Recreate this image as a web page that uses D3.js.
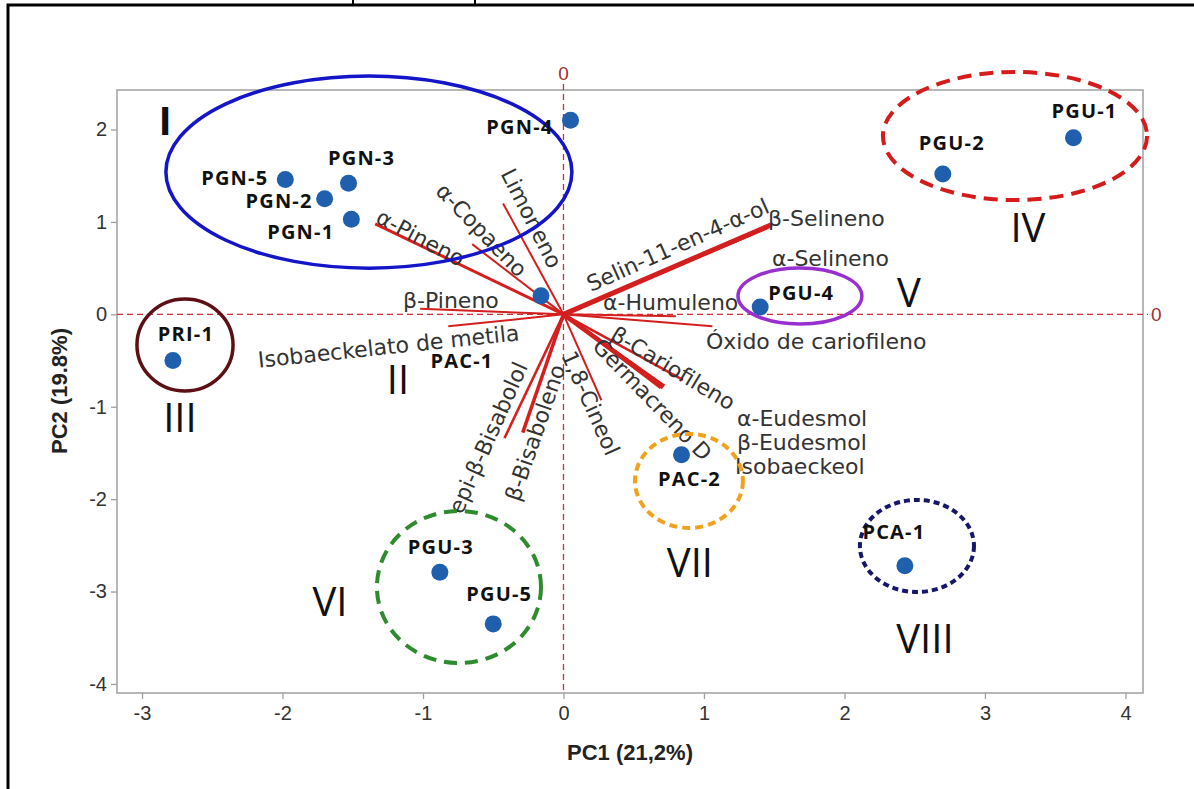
<!DOCTYPE html>
<html>
<head>
<meta charset="utf-8">
<script src="https://cdn.jsdelivr.net/npm/d3@7/dist/d3.min.js"></script>
<style>
  body { margin: 0; background: #fff; }
</style>
</head>
<body>
<div id="chart"></div>
<script>
"use strict";

// samples (scores)
var sampleNames = ["PGN-1", "PGN-2", "PGN-3", "PGN-4", "PGN-5", "PRI-1", "PAC-1", "PGU-4",
                   "PGU-2", "PGU-1", "PAC-2", "PCA-1", "PGU-3", "PGU-5"];
var samplePC1 = [-1.51, -1.70, -1.53, 0.05, -1.98, -2.78, -0.16, 1.40, 2.70, 3.63, 0.84, 2.43, -0.88, -0.50];
var samplePC2 = [1.03, 1.25, 1.42, 2.10, 1.46, -0.50, 0.20, 0.08, 1.52, 1.91, -1.52, -2.72, -2.79, -3.35];

// compounds (loadings, drawn as vectors from origin)
var loadingNames = ["α-Pineno", "α-Copaeno", "Limoneno", "β-Pineno", "Isobaeckelato de metila",
                    "Selin-11-en-4-α-ol", "β-Selineno", "α-Selineno", "α-Humuleno", "Óxido de cariofileno",
                    "β-Cariofileno", "Germacreno D", "α-Eudesmol", "β-Eudesmol", "Isobaeckeol",
                    "1,8-Cineol", "β-Bisaboleno", "epi-β-Bisabolol"];
var loadingPC1 = [-1.34, -0.65, -0.43, -1.02, -0.82, 1.48, 1.47, 1.45, 0.80, 1.06,
                  0.85, 0.71, 0.70, 0.72, 0.69, 0.27, -0.29, -0.42];
var loadingPC2 = [0.98, 0.76, 1.20, 0.06, -0.13, 0.97, 0.95, 0.93, -0.02, -0.13,
                  -0.71, -0.79, -0.78, -0.77, -0.80, -0.93, -1.28, -1.34];

// groups
var groupNames = ["I", "II", "III", "IV", "V", "VI", "VII", "VIII"];

// axis ticks
var xTicks = [-3, -2, -1, 0, 1, 2, 3, 4];
var yTicks = [-4, -3, -2, -1, 0, 1, 2];

// ---------- layout / style ----------
var W = 1194, H = 789;
var plot = { left: 117, right: 1143, top: 90, bottom: 693 };

var x = d3.scaleLinear().domain([-3.178, 4.125]).range([plot.left, plot.right]);
var y = d3.scaleLinear().domain([-4.098, 2.428]).range([plot.bottom, plot.top]);

// sample label offsets in px
var sampleLabelPos = {
    "PGN-1": [-17, 13, "end"], "PGN-2": [-12, 2, "end"], "PGN-3": [13, -25, "middle"],
    "PGN-4": [-17, 7, "end"], "PGN-5": [-17, -1, "end"], "PRI-1": [13, -27, "middle"],
    "PAC-1": [-79, 65, "middle"], "PGU-4": [8, -14, "start"], "PGU-2": [9, -31, "middle"],
    "PGU-1": [11, -27, "middle"], "PAC-2": [8, 24, "middle"], "PCA-1": [-11, -34, "middle"],
    "PGU-3": [1, -25, "middle"], "PGU-5": [6, -30, "middle"]
};

// compound label anchors (data units) and rotation
var loadingLabelPos = {
    "α-Pineno": [-1.320, 1.073, 28],
    "α-Copaeno": [-0.879, 1.378, 46],
    "Limoneno": [-0.402, 1.562, 63],
    "Selin-11-en-4-α-ol": [0.174, 0.317, -24],
    "β-Pineno": [-1.142, 0.155, 0],
    "Isobaeckelato de metila": [-2.174, -0.495, -6],
    "α-Humuleno": [0.281, 0.133, 0],
    "β-Selineno": [1.456, 1.042, 0],
    "α-Selineno": [1.484, 0.609, 0],
    "Óxido de cariofileno": [1.014, -0.289, 0],
    "β-Cariofileno": [0.352, -0.192, 31],
    "Germacreno D": [0.238, -0.300, 46],
    "1,8-Cineol": [0.032, -0.408, 66],
    "β-Bisaboleno": [-0.367, -2.010, -71],
    "epi-β-Bisabolol": [-0.772, -2.140, -66],
    "α-Eudesmol": [1.235, -1.121, 0],
    "β-Eudesmol": [1.235, -1.381, 0],
    "Isobaeckeol": [1.221, -1.640, 0]
};

var lineWidth = {
    "α-Pineno": 3, "Selin-11-en-4-α-ol": 5, "Germacreno D": 4.5,
    "β-Bisaboleno": 3.5, "epi-β-Bisabolol": 2.5, "β-Cariofileno": 2.5
};

// group ellipses in data units: cx, cy, rx, ry, color, dash, width
var groupShape = {
    "I":    [-1.385, 1.54, 1.445, 1.04, "#1414c8", null, 3.5],
    "III":  [-2.694, -0.332, 0.342, 0.498, "#5c0f14", null, 3.5],
    "IV":   [3.214, 1.93, 0.94, 0.693, "#d41c1c", "14 8", 4],
    "V":    [1.683, 0.198, 0.441, 0.303, "#9a2fd0", null, 3.5],
    "VI":   [-0.744, -2.951, 0.584, 0.823, "#2e8b2e", "13 8", 4],
    "VII":  [0.893, -1.803, 0.384, 0.509, "#f0a21e", "8 5", 4],
    "VIII": [2.516, -2.507, 0.406, 0.498, "#16166b", "6 4", 4]
};
var groupLabelPos = {
    "I": [-2.836, 2.102], "II": [-1.178, -0.711], "III": [-2.730, -1.122], "IV": [3.306, 0.934],
    "V": [2.459, 0.231], "VI": [-1.662, -3.114], "VII": [0.900, -2.692], "VIII": [2.573, -3.504]
};

var svg = d3.select("#chart").append("svg")
    .attr("width", W).attr("height", H)
    .style("font-family", "'DejaVu Sans', sans-serif");

svg.append("rect").attr("width", W).attr("height", H).attr("fill", "#fff");

// page border (cropped figure box)
svg.append("path").attr("d", "M8,789 V5 H1194")
    .attr("fill", "none").attr("stroke", "#000").attr("stroke-width", 3);
svg.append("path").attr("d", "M353,0 V5 M475,0 V5")
    .attr("stroke", "#000").attr("stroke-width", 2);

// frame
svg.append("rect")
    .attr("x", plot.left).attr("y", plot.top)
    .attr("width", plot.right - plot.left).attr("height", plot.bottom - plot.top)
    .attr("fill", "none").attr("stroke", "#a0a0a0").attr("stroke-width", 1.5);

// axes
var tickFont = "'Liberation Sans', Arial, sans-serif";
var xAxis = svg.append("g").attr("transform", "translate(0," + plot.bottom + ")")
    .call(d3.axisBottom(x).tickValues(xTicks).tickSize(6).tickPadding(7).tickFormat(function (d) { return String(d); }));
var yAxis = svg.append("g").attr("transform", "translate(" + plot.left + ",0)")
    .call(d3.axisLeft(y).tickValues(yTicks).tickSize(6).tickPadding(4).tickFormat(function (d) { return String(d); }));
[xAxis, yAxis].forEach(function (a) {
    a.select(".domain").remove();
    a.selectAll(".tick line").attr("stroke", "#a0a0a0").attr("stroke-width", 1.3);
    a.selectAll(".tick text").attr("fill", "#333").style("font-size", "20px").style("font-family", tickFont);
});

svg.append("text").attr("x", 630).attr("y", 760).attr("text-anchor", "middle")
    .style("font-family", tickFont).style("font-weight", "bold").style("font-size", "22px")
    .attr("fill", "#222").text("PC1 (21,2%)");
svg.append("text").attr("transform", "translate(67,391) rotate(-90)").attr("text-anchor", "middle")
    .style("font-family", tickFont).style("font-weight", "bold").style("font-size", "22px")
    .attr("fill", "#222").text("PC2 (19.8%)");

// zero reference lines
var zeroColor = "#c8323a";
svg.append("line").attr("x1", x(0)).attr("x2", x(0)).attr("y1", 84).attr("y2", plot.bottom)
    .attr("stroke", zeroColor).attr("stroke-width", 1.3).attr("stroke-dasharray", "6 4");
svg.append("line").attr("x1", plot.left).attr("x2", plot.right + 5).attr("y1", y(0)).attr("y2", y(0))
    .attr("stroke", zeroColor).attr("stroke-width", 1.3).attr("stroke-dasharray", "6 4");
svg.append("text").attr("x", x(0)).attr("y", 80).attr("text-anchor", "middle")
    .style("font-family", tickFont).style("font-size", "19px").attr("fill", "#a03030").text("0");
svg.append("text").attr("x", plot.right + 8).attr("y", y(0)).attr("dy", "0.35em")
    .style("font-family", tickFont).style("font-size", "19px").attr("fill", "#a03030").text("0");

// loading vectors
var loadings = loadingNames.map(function (n, i) {
    return { name: n, pc1: loadingPC1[i], pc2: loadingPC2[i] };
});
svg.append("g").selectAll("line").data(loadings).join("line")
    .attr("x1", x(0)).attr("y1", y(0))
    .attr("x2", function (d) { return x(d.pc1); })
    .attr("y2", function (d) { return y(d.pc2); })
    .attr("stroke", "#d41f1f")
    .attr("stroke-width", function (d) { return lineWidth[d.name] || 2; });

// loading labels
svg.append("g").selectAll("text").data(loadings).join("text")
    .attr("transform", function (d) {
        var p = loadingLabelPos[d.name];
        return "translate(" + x(p[0]) + "," + y(p[1]) + ") rotate(" + p[2] + ")";
    })
    .attr("dy", "0.35em")
    .style("font-size", "22px")
    .attr("fill", "#333")
    .text(function (d) { return d.name; });

// group ellipses
var shapes = groupNames.filter(function (g) { return groupShape[g]; });
svg.append("g").selectAll("ellipse").data(shapes).join("ellipse")
    .attr("cx", function (g) { return x(groupShape[g][0]); })
    .attr("cy", function (g) { return y(groupShape[g][1]); })
    .attr("rx", function (g) { return x(groupShape[g][0] + groupShape[g][2]) - x(groupShape[g][0]); })
    .attr("ry", function (g) { return y(groupShape[g][1] - groupShape[g][3]) - y(groupShape[g][1]); })
    .attr("fill", "none")
    .attr("stroke", function (g) { return groupShape[g][4]; })
    .attr("stroke-dasharray", function (g) { return groupShape[g][5]; })
    .attr("stroke-width", function (g) { return groupShape[g][6]; });

// group numerals
svg.append("g").selectAll("text").data(groupNames).join("text")
    .attr("x", function (g) { return x(groupLabelPos[g][0]); })
    .attr("y", function (g) { return y(groupLabelPos[g][1]); })
    .attr("dy", "0.36em")
    .attr("text-anchor", "middle")
    .style("font-family", "'Open Sans', sans-serif")
    .style("font-size", "40px")
    .style("font-weight", function (g) { return g === "I" ? 700 : 400; })
    .attr("fill", "#111")
    .text(function (g) { return g; });

// samples
var samples = sampleNames.map(function (n, i) {
    return { name: n, pc1: samplePC1[i], pc2: samplePC2[i] };
});
svg.append("g").selectAll("circle").data(samples).join("circle")
    .attr("cx", function (d) { return x(d.pc1); })
    .attr("cy", function (d) { return y(d.pc2); })
    .attr("r", 8.5)
    .attr("fill", "#1f5fae");

svg.append("g").selectAll("text").data(samples).join("text")
    .attr("x", function (d) { return x(d.pc1) + sampleLabelPos[d.name][0]; })
    .attr("y", function (d) { return y(d.pc2) + sampleLabelPos[d.name][1]; })
    .attr("dy", "0.35em")
    .attr("text-anchor", function (d) { return sampleLabelPos[d.name][2]; })
    .style("font-family", "'Open Sans', sans-serif")
    .style("font-weight", "bold")
    .style("font-size", "20px")
    .style("letter-spacing", "1.2px")
    .attr("fill", "#111")
    .text(function (d) { return d.name; });
</script>
</body>
</html>
